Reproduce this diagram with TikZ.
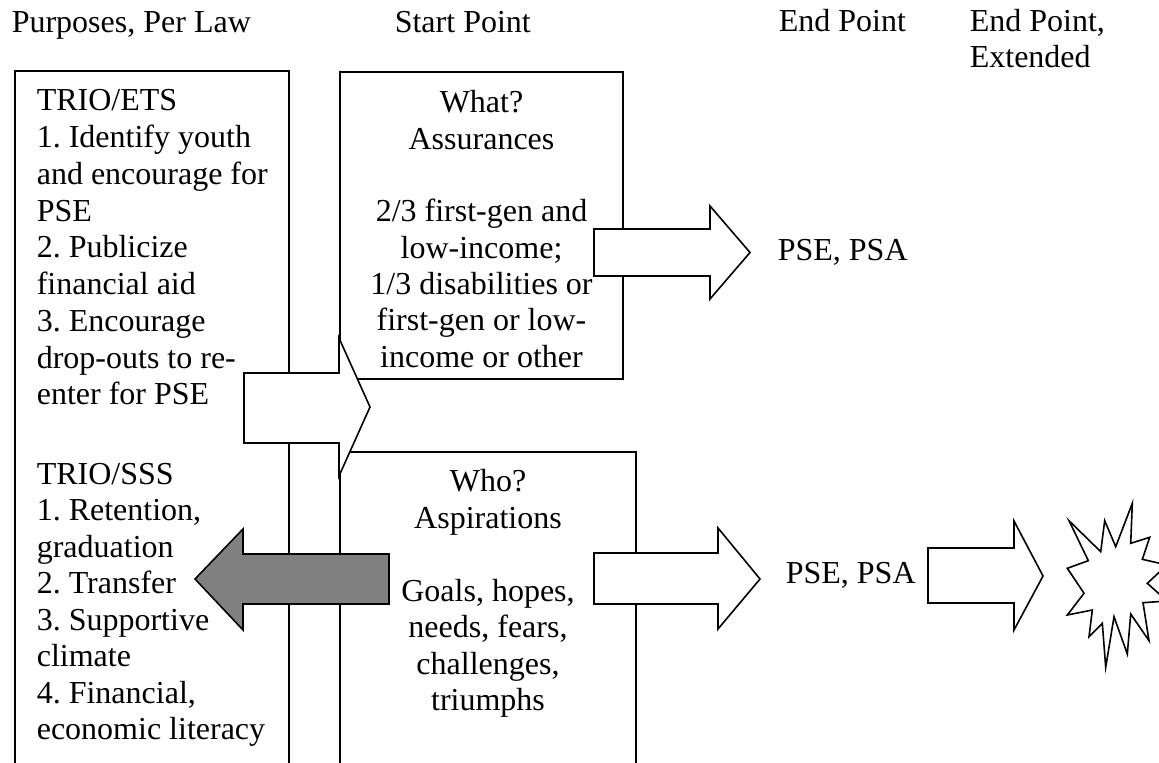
\documentclass[tikz,border=0pt]{standalone}
\usepackage{fontspec}
\setmainfont{Liberation Serif}
\definecolor{arrowgray}{HTML}{808080}
\begin{document}
\frenchspacing
\begin{tikzpicture}[x=0.5pt,y=-0.5pt, line width=0.8pt, line join=miter,
  txt/.style={inner sep=0pt, anchor=base west, font=\fontsize{16pt}{18pt}\selectfont},
  ctxt/.style={inner sep=0pt, anchor=base, font=\fontsize{16pt}{18pt}\selectfont},
  boxline/.style={draw=black},
  blockarrow/.style={draw=black, fill=white},
  grayarrow/.style={draw=black, fill=arrowgray}]
\useasboundingbox (0,0) rectangle (1159,763);
\clip (0,0) rectangle (1159,763);
\fill[white] (0,0) rectangle (1159,763);

% boxes
\draw[boxline] (15,790) -- (15,71) -- (289,71) -- (289,790);
\draw[boxline] (340,72) rectangle (623,379);
\draw[boxline] (340,790) -- (340,452) -- (636,452) -- (636,790);

% block arrows
\draw[blockarrow] (244,373) -- (339,373) -- (339,338) -- (370,407) -- (339,476) -- (339,443) -- (244,443) -- cycle;
\draw[blockarrow] (594,229) -- (710,229) -- (710,206) -- (750,252.5) -- (710,299) -- (710,276) -- (594,276) -- cycle;
\draw[blockarrow] (594,553) -- (718,553) -- (718,528) -- (760,579) -- (718,629) -- (718,604) -- (594,604) -- cycle;
\draw[grayarrow] (389,554) -- (243,554) -- (243,529) -- (195,579) -- (243,630) -- (243,604) -- (389,604) -- cycle;
\draw[blockarrow] (928,548) -- (1014,548) -- (1014,521) -- (1043,576) -- (1014,630) -- (1014,603) -- (928,603) -- cycle;

% star
\draw[blockarrow] (1069,520.7) -- (1100.7,551.7) -- (1104.7,520.7) -- (1115.7,546.7) -- (1132.3,503.3) -- (1130.7,543.3) -- (1149.7,537.3) -- (1142.3,559.3) -- (1167,565) -- (1147.3,583.3) -- (1167,601) -- (1143,602.7) -- (1149,640.7) -- (1130.7,614) -- (1127.3,654) -- (1114,616.7) -- (1105.7,667.3) -- (1102.3,623.3) -- (1089,636.7) -- (1092.3,610) -- (1067.3,615) -- (1084,593.3) -- (1067.3,568.3) -- (1088.3,560.7) -- cycle;

% headers
\node[txt] (h1) at (11,33) {Purposes, Per Law};
\node[txt] (h2) at (394,33) {Start Point};
\node[txt] (h3) at (778,32) {End Point};
\node[txt] (h4) at (969,32) {End Point,};
\node[txt] (h5) at (969,68) {Extended};

% left box text
\foreach \t [count=\i] in {TRIO/ETS, 1. Identify youth, and encourage for, PSE, 2. Publicize, financial aid, 3. Encourage, drop-outs to re-, enter for PSE}
  \node[txt] (ets\i) at (36,{111+36.75*(\i-1)}) {\t};
\foreach \t [count=\i] in {TRIO/SSS, {1. Retention,}, graduation, 2. Transfer, 3. Supportive, climate, {4. Financial,}, economic literacy}
  \node[txt] (sss\i) at (36,{484+36.5*(\i-1)}) {\t};

% what box text
\node[ctxt] (w1) at (481.5,113) {What?};
\node[ctxt] (w2) at (481.5,149.3) {Assurances};
\node[ctxt] (w3) at (481.5,221.9) {2/3 first-gen and};
\node[ctxt] (w4) at (481.5,258.2) {low-income;};
\node[ctxt] (w5) at (481.5,294.5) {1/3 disabilities or};
\node[ctxt] (w6) at (481.5,330.8) {first-gen or low-};
\node[ctxt] (w7) at (481.5,367.1) {income or other};

% who box text
\node[ctxt] (v1) at (488,491.5) {Who?};
\node[ctxt] (v2) at (488,528) {Aspirations};
\node[ctxt] (v3) at (488,601) {Goals, hopes,};
\node[ctxt] (v4) at (488,637.5) {needs, fears,};
\node[ctxt] (v5) at (488,674) {challenges,};
\node[ctxt] (v6) at (488,710.5) {triumphs};

% end points
\node[txt] (e1) at (777,261) {PSE, PSA};
\node[txt] (e2) at (785,583) {PSE, PSA};
\end{tikzpicture}
\end{document}
